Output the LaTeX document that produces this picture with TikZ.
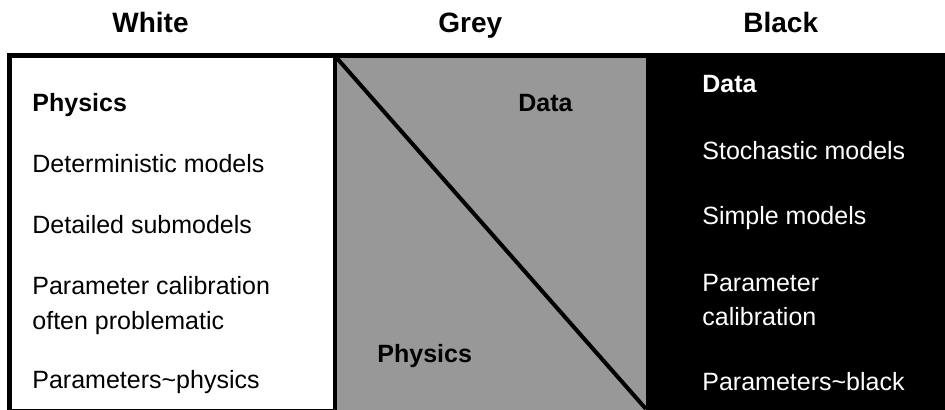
\documentclass[tikz,border=0pt]{standalone}
\usepackage{fontspec}
\setmainfont{Liberation Sans}
\definecolor{panelgrey}{RGB}{152,152,152}
\begin{document}
\begin{tikzpicture}[x=0.5pt,y=-0.5pt,
  body/.style={anchor=base west, inner sep=0pt, font=\fontsize{12.5}{15}\selectfont},
  bodyb/.style={body, font=\fontsize{12.5}{15}\selectfont\bfseries},
  ttl/.style={anchor=base west, inner sep=0pt, font=\fontsize{14}{17}\selectfont\bfseries},
  frame/.style={line width=2.25pt},
  diag/.style={line width=2pt}]
\useasboundingbox (0,0) rectangle (945,410);
\fill[white] (0,0) rectangle (945,410);
% panels
\coordinate (wtl) at (9.5,55.5);
\coordinate (gtl) at (335,55.5);
\coordinate (gbr) at (646,411);
\coordinate (btl) at (646,53);
\fill[panelgrey] (gtl) rectangle (gbr);
\fill[black] (btl) rectangle (950,416);
\draw[frame] (wtl) rectangle (335,411);
\draw[frame] (gtl) -- (646,55.5);
\draw[frame] (646,55.5) -- (950,55.5);
\draw[diag] (335,56) -- (646,409);
% titles
\node[ttl] (tw) at (112,33) {White};
\node[ttl] (tg) at (438,33) {Grey};
\node[ttl] (tb) at (743,33) {Black};
% white column
\node[bodyb] (w1) at (32,112) {Physics};
\node[body] (w2) at (32,173) {Deterministic models};
\node[body] (w3) at (32,234) {Detailed submodels};
\node[body] (w4) at (32,295) {Parameter calibration};
\node[body] (w5) at (32,329) {often problematic};
\node[body] (w6) at (32,388) {Parameters\textasciitilde physics};
% grey column
\node[bodyb] (g1) at (518,112) {Data};
\node[bodyb] (g2) at (377,362) {Physics};
% black column
\begin{scope}[text=white]
\node[bodyb] (b1) at (702,93) {Data};
\node[body] (b2) at (702,160) {Stochastic models};
\node[body] (b3) at (702,225) {Simple models};
\node[body] (b4) at (702,292) {Parameter};
\node[body] (b5) at (702,326) {calibration};
\node[body] (b6) at (702,390) {Parameters\textasciitilde black};
\end{scope}
\end{tikzpicture}
\end{document}
